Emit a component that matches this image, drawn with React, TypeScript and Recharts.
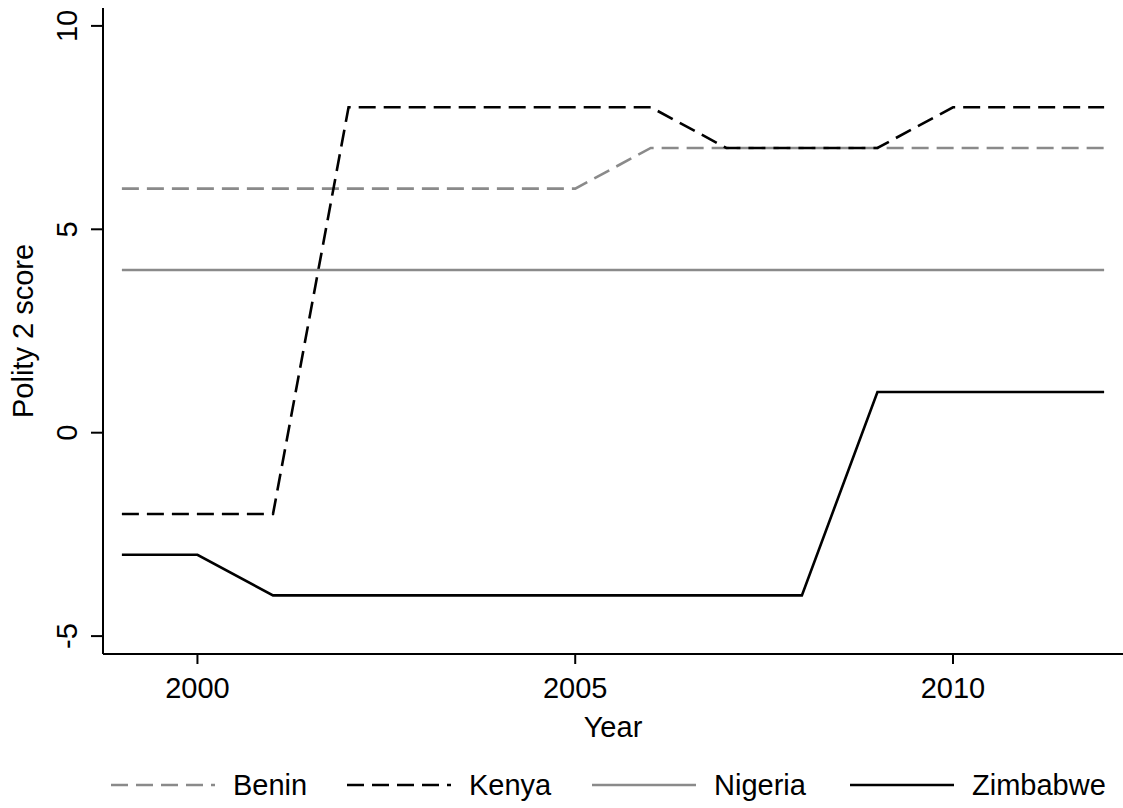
import React from 'react';
import { LineChart, Line, XAxis, YAxis, Legend } from 'recharts';

const YEARS = [1999, 2000, 2001, 2002, 2003, 2004, 2005, 2006, 2007, 2008, 2009, 2010, 2011, 2012];
const BENIN = [6, 6, 6, 6, 6, 6, 6, 7, 7, 7, 7, 7, 7, 7];
const KENYA = [-2, -2, -2, 8, 8, 8, 8, 8, 7, 7, 7, 8, 8, 8];
const NIGERIA = [4, 4, 4, 4, 4, 4, 4, 4, 4, 4, 4, 4, 4, 4];
const ZIMBABWE = [-3, -3, -4, -4, -4, -4, -4, -4, -4, -4, 1, 1, 1, 1];

const X_TICKS = [2000, 2005, 2010];
const Y_TICKS = [-5, 0, 5, 10];

const FONT = '"Liberation Sans", Arial, sans-serif';
const FS = 29;
const GREY = '#8a8a8a';

const SERIES = [
  { key: 'benin', name: 'Benin', values: BENIN, color: GREY, dash: '17 8' },
  { key: 'kenya', name: 'Kenya', values: KENYA, color: '#000000', dash: '17 8' },
  { key: 'nigeria', name: 'Nigeria', values: NIGERIA, color: GREY, dash: undefined },
  { key: 'zimbabwe', name: 'Zimbabwe', values: ZIMBABWE, color: '#000000', dash: undefined },
];

const data = YEARS.map((year, i) => {
  const row: Record<string, number> = { year };
  SERIES.forEach(s => { row[s.key] = s.values[i]; });
  return row;
});

const XTick = ({ x, y, payload }: any) => (
  <text x={x} y={y + 32} textAnchor="middle" fontSize={FS} fontFamily={FONT} fill="#000">
    {payload.value}
  </text>
);

const YTick = ({ x, y, payload }: any) => (
  <text
    x={x - 12}
    y={y}
    transform={`rotate(-90 ${x - 12} ${y})`}
    textAnchor="middle"
    fontSize={FS}
    fontFamily={FONT}
    fill="#000"
  >
    {payload.value}
  </text>
);

// legend: sample line ~105px, then label
const LegendBox = () => (
  <svg width={1123} height={40} style={{ display: 'block' }}>
    {SERIES.map((s, i) => {
      const starts = [111, 347, 592, 850];
      const x0 = starts[i];
      return (
        <g key={s.key}>
          <line x1={x0} x2={x0 + 104} y1={20} y2={20} stroke={s.color} strokeWidth={2.6} strokeDasharray={s.dash} />
          <text x={x0 + 122} y={30} fontSize={FS} fontFamily={FONT} fill="#000">{s.name}</text>
        </g>
      );
    })}
  </svg>
);

export default function App() {
  return (
    <div style={{ position: 'absolute', left: 0, top: 0, width: 1123, height: 808, background: '#fff' }}>
      <LineChart width={1123} height={808} data={data} margin={{ top: 8, right: 0, left: 0, bottom: 54 }}>
        <XAxis
          dataKey="year"
          type="number"
          domain={[1998.75, 2012.25]}
          ticks={X_TICKS}
          tick={<XTick />}
          tickSize={10}
          stroke="#000"
          strokeWidth={2}
          height={60}
          label={{
            content: ({ viewBox }: any) => (
              <text
                x={viewBox.x + viewBox.width / 2}
                y={737}
                textAnchor="middle"
                fontSize={FS}
                fontFamily={FONT}
                fill="#000"
              >
                Year
              </text>
            ),
          }}
        />
        <YAxis
          type="number"
          domain={[-5.44, 10.44]}
          ticks={Y_TICKS}
          tick={<YTick />}
          tickSize={12}
          width={103}
          stroke="#000"
          strokeWidth={2}
          allowDataOverflow
          label={{
            content: ({ viewBox }: any) => {
              const cy = viewBox.y + viewBox.height / 2;
              return (
                <text
                  x={33}
                  y={cy}
                  transform={`rotate(-90 33 ${cy})`}
                  textAnchor="middle"
                  fontSize={FS}
                  fontFamily={FONT}
                  fill="#000"
                >
                  Polity 2 score
                </text>
              );
            },
          }}
        />
        {SERIES.map(s => (
          <Line
            key={s.key}
            dataKey={s.key}
            name={s.name}
            type="linear"
            stroke={s.color}
            strokeWidth={2.6}
            strokeDasharray={s.dash}
            dot={false}
            activeDot={false}
            isAnimationActive={false}
          />
        ))}
        <Legend
          content={<LegendBox />}
          wrapperStyle={{ position: 'absolute', left: 0, top: 765, width: 1123 }}
        />
      </LineChart>
    </div>
  );
}
